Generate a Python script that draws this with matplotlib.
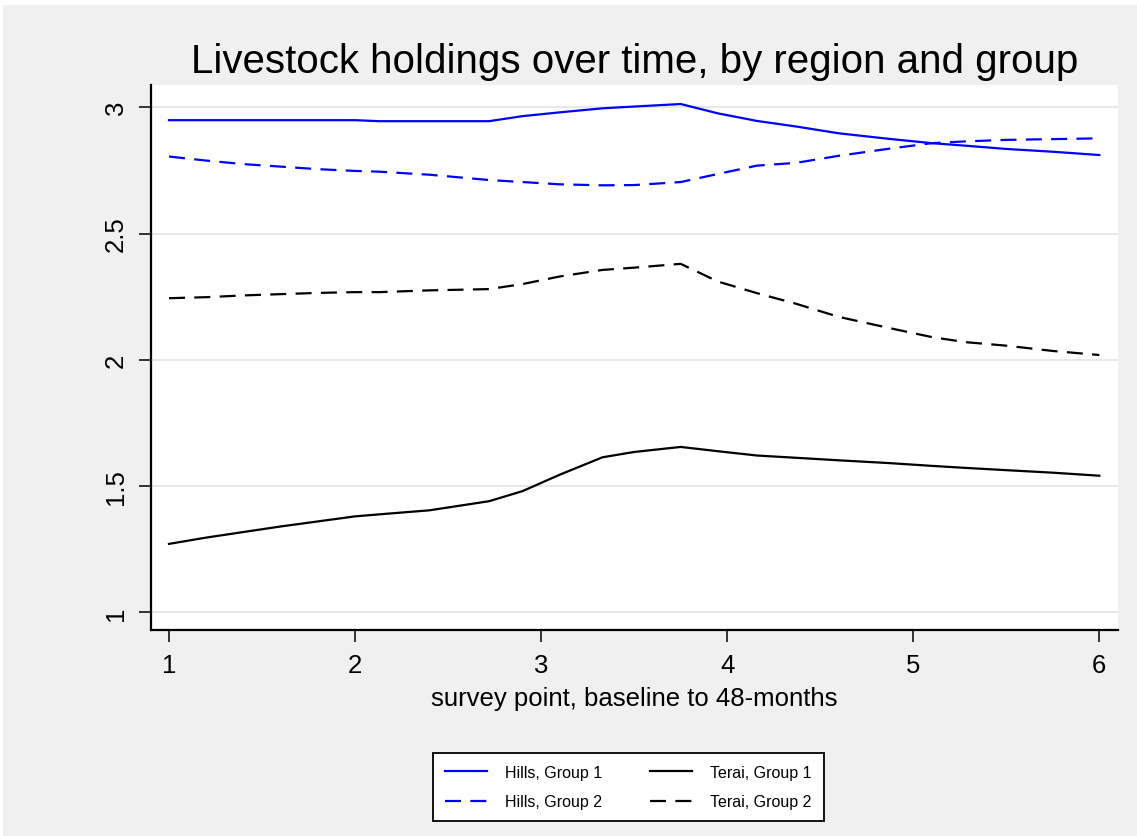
import matplotlib
matplotlib.use('Agg')
from matplotlib import pyplot as plt
from matplotlib.patches import Rectangle

plt.rcParams['font.family'] = ['Liberation Sans', 'DejaVu Sans']

# survey point (smoothed curves)
survey = [1.0, 1.2, 1.4, 1.6, 1.8, 2.0, 2.13, 2.4, 2.72, 2.9, 3.1, 3.33,
          3.5, 3.75, 3.95, 4.16, 4.37, 4.6, 4.87, 5.1, 5.28, 5.5, 5.75, 6.0]

hills_g1 = [2.949, 2.949, 2.949, 2.949, 2.949, 2.949, 2.945, 2.945, 2.945, 2.965, 2.980, 2.996,
            3.003, 3.013, 2.976, 2.946, 2.924, 2.897, 2.875, 2.858, 2.848, 2.835, 2.824, 2.811]
hills_g2 = [2.805, 2.789, 2.775, 2.765, 2.755, 2.748, 2.745, 2.733, 2.712, 2.704, 2.695, 2.691,
            2.692, 2.704, 2.736, 2.769, 2.780, 2.808, 2.836, 2.858, 2.865, 2.871, 2.874, 2.877]
terai_g1 = [1.271, 1.296, 1.318, 1.340, 1.360, 1.380, 1.388, 1.404, 1.440, 1.480, 1.545, 1.614,
            1.635, 1.655, 1.638, 1.621, 1.612, 1.602, 1.591, 1.580, 1.572, 1.563, 1.553, 1.541]
terai_g2 = [2.244, 2.248, 2.255, 2.260, 2.265, 2.268, 2.268, 2.275, 2.280, 2.300, 2.330, 2.356,
            2.365, 2.380, 2.310, 2.264, 2.222, 2.170, 2.126, 2.090, 2.070, 2.056, 2.035, 2.019]

series_labels = ['Hills, Group 1', 'Hills, Group 2', 'Terai, Group 1', 'Terai, Group 2']
xticks = [1, 2, 3, 4, 5, 6]
yticks = [1, 1.5, 2, 2.5, 3]
ytick_labels = ['1', '1.5', '2', '2.5', '3']

W, H = 1137, 837
fig = plt.figure(figsize=(W / 100, H / 100), dpi=100)
fig.patch.set_facecolor('white')
# gray graph region (thin white border top/left)
fig.patches.append(Rectangle((3 / W, 0), 1, 1 - 6 / H, transform=fig.transFigure,
                             facecolor='#f0f0f0', edgecolor='none', zorder=-10))

ax = fig.add_axes([150.7 / W, 1 - 631 / H, (1118.3 - 150.7) / W, (631 - 86) / H])
ax.set_facecolor('white')

lw = 1.6
dash = (7.2, 4.2)
ax.plot(survey, hills_g1, color='#0000ff', lw=lw, label=series_labels[0])
ax.plot(survey, hills_g2, color='#0000ff', lw=lw, dashes=dash, label=series_labels[1])
ax.plot(survey, terai_g1, color='black', lw=lw, label=series_labels[2])
ax.plot(survey, terai_g2, color='black', lw=lw, dashes=dash, label=series_labels[3])

ax.set_xlim(0.9016, 6.102)
ax.set_ylim(0.930, 3.0883)
ax.set_xticks(xticks)
ax.set_xticklabels([str(t) for t in xticks], fontsize=18.5)
ax.set_yticks(yticks)
ax.set_yticklabels(ytick_labels, fontsize=18.5, rotation=90, va='center')
ax.tick_params(direction='out', length=8.6, width=1.1, color='black', pad=8)
ax.grid(axis='y', color='#e6e6e6', lw=1.3)
ax.set_axisbelow(True)
for s in ['top', 'right']:
    ax.spines[s].set_visible(False)
for s in ['left', 'bottom']:
    ax.spines[s].set_linewidth(1.6)
    ax.spines[s].set_color('black')

fig.text(634.5 / W, 1 - 72.7 / H, 'Livestock holdings over time, by region and group',
         ha='center', va='baseline', fontsize=29)
fig.text(634.5 / W, 1 - 705.7 / H, 'survey point, baseline to 48-months',
         ha='center', va='baseline', fontsize=18.5)

leg = fig.legend(ncol=2, loc='center', bbox_to_anchor=(628.5 / W, 1 - 788 / H),
                 fontsize=11.5, frameon=True, fancybox=False, framealpha=1,
                 handlelength=2.6, handletextpad=1.15, columnspacing=3.0,
                 labelspacing=0.9, borderpad=0.75, borderaxespad=0, edgecolor='black')
leg.get_frame().set_linewidth(1.3)

fig.savefig('out.png', dpi=100, facecolor=fig.get_facecolor())
